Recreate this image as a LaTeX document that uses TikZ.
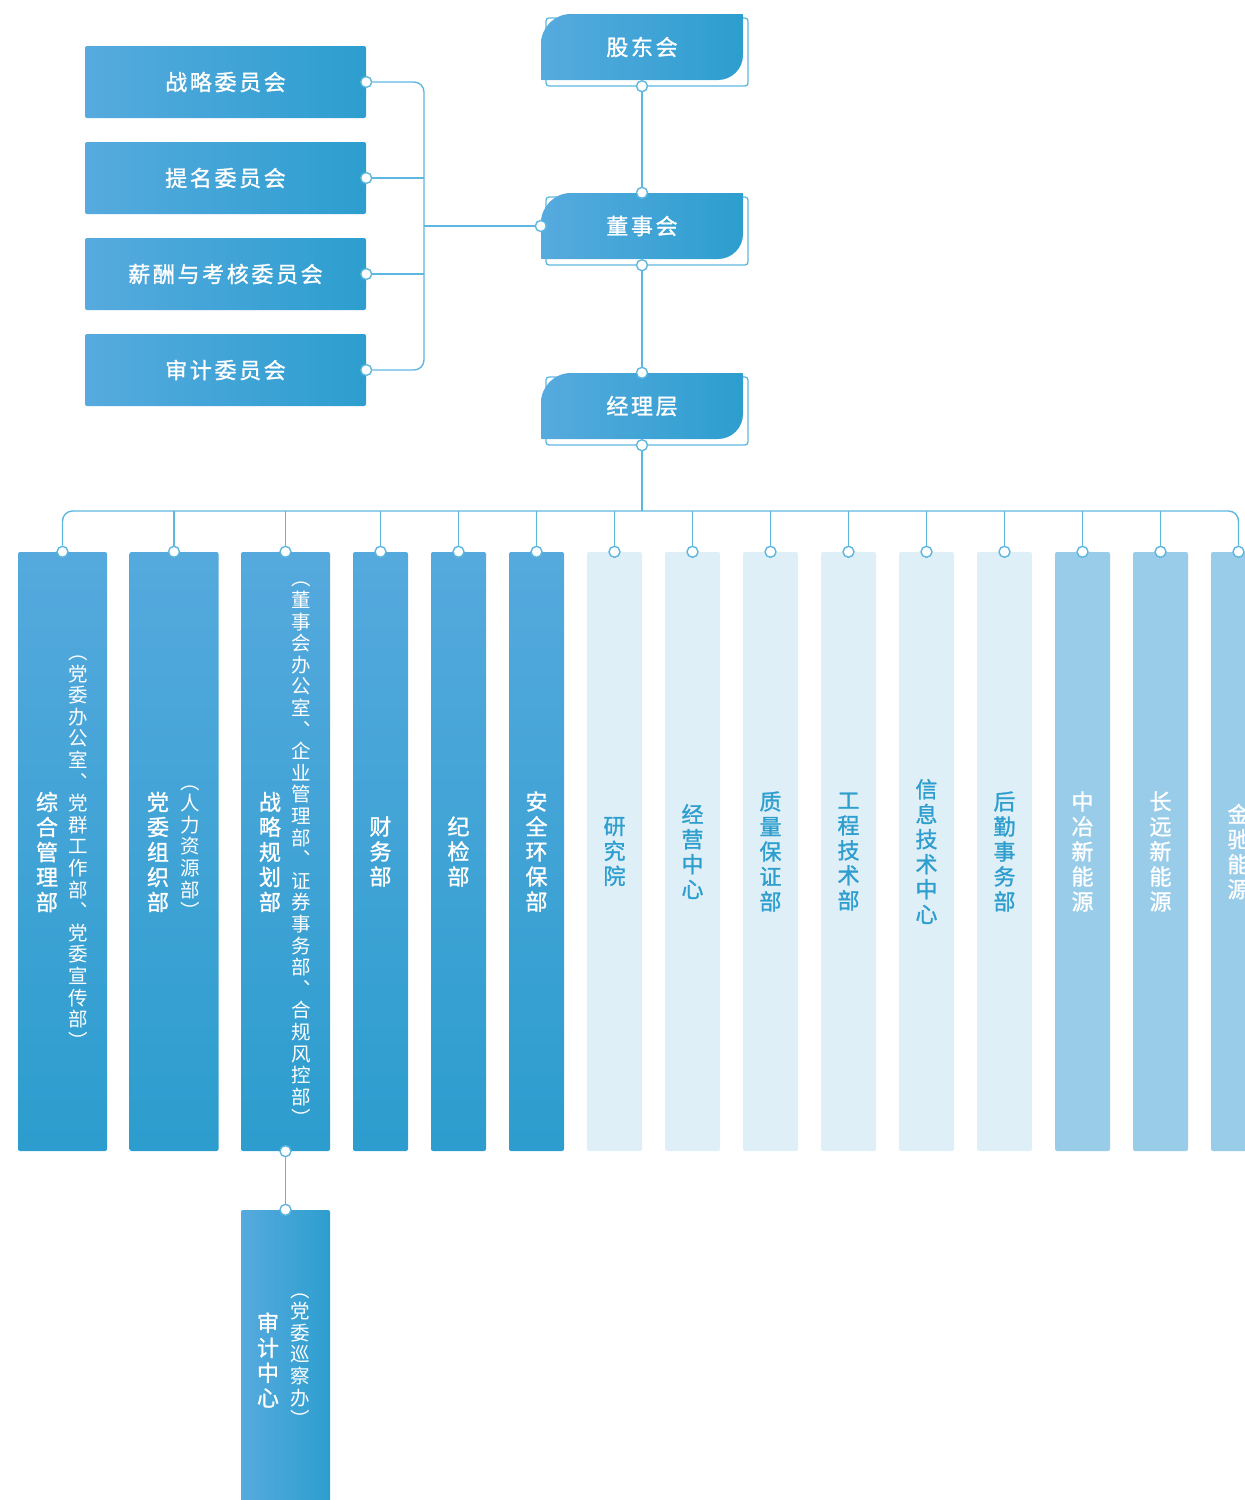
\documentclass[tikz,border=0pt]{standalone}
\usepackage{fontspec}
\usetikzlibrary{calc}
\newfontfamily\cjk{Noto Sans CJK SC}
\newfontfamily\cjkmed[FakeBold=1.2]{Noto Sans CJK SC}
\definecolor{BoxLeft}{RGB}{86,170,222}
\definecolor{BoxRight}{RGB}{45,158,207}
\definecolor{ColTop}{RGB}{85,169,221}
\definecolor{ColBot}{RGB}{44,157,206}
\definecolor{LinkBlue}{RGB}{93,183,222}
\definecolor{PaleBlue}{RGB}{223,239,247}
\definecolor{MidBlue}{RGB}{152,204,233}
\definecolor{TextBlue}{RGB}{46,158,207}

\newcommand\headbg[2]{%
  \begin{scope}[shift={(#1,#2)}]
    \draw[LinkBlue, line width=1.3pt, rounded corners=3pt] (5,4) rectangle (207,72);
    \shade[left color=BoxLeft, right color=BoxRight]
      (0,64) -- (0,30) .. controls (0,13.4) and (13.4,0) .. (30,0) -- (200,0)
      .. controls (202,0) and (202,0) .. (202,2) -- (202,41)
      .. controls (202,54.8) and (190.8,66) .. (177,66) -- (2,66)
      .. controls (0,66) and (0,66) .. (0,64) -- cycle;
  \end{scope}}

\begin{document}
\begin{tikzpicture}[x=1pt, y=-1pt,
  headbox/.style={minimum width=202, minimum height=66, inner sep=0pt, text=white,
    font=\cjkmed\fontsize{22}{22}\selectfont\addfontfeature{LetterSpace=12}},
  committee/.style={rectangle, rounded corners=2pt, minimum width=281, minimum height=72,
    inner sep=0pt, left color=BoxLeft, right color=BoxRight, text=white,
    font=\cjkmed\fontsize{22}{22}\selectfont\addfontfeature{LetterSpace=12}},
  col/.style={rectangle, rounded corners=2pt, minimum height=599, inner sep=0pt, align=center,
    font=\cjkmed\fontsize{22}{25}\selectfont},
  wide/.style={minimum width=89},
  narrow/.style={minimum width=55},
  dark/.style={col, top color=ColTop, bottom color=ColBot, text=white},
  pale/.style={col, fill=PaleBlue, text=TextBlue},
  mid/.style={col, fill=MidBlue, text=white},
  vname/.style={align=center, inner sep=0pt, text=white, font=\cjkmed\fontsize{22}{25}\selectfont},
  vnote/.style={align=center, inner sep=0pt, text=white, font=\cjk\fontsize{19.5}{21.6}\selectfont},
  link/.style={draw=LinkBlue, line width=1.4pt},
  dot/.style={circle, draw=LinkBlue, fill=white, line width=1.4pt, minimum size=11pt, inner sep=0pt}
]
  \clip (0,0) rectangle (1245,1500);

  \headbg{541}{14}
  \node[headbox] (gd) at (642,47) {股东会};
  \headbg{541}{193}
  \node[headbox] (ds) at (642,226) {董事会};
  \headbg{541}{373}
  \node[headbox] (jl) at (642,406) {经理层};

  \node[committee] (c1) at (225.5,82) {战略委员会};
  \node[committee] (c2) at (225.5,178) {提名委员会};
  \node[committee] (c3) at (225.5,274) {薪酬与考核委员会};
  \node[committee] (c4) at (225.5,370) {审计委员会};

  \node[dark, wide] (d1) at (62.5,851.5) {};
  \node[dark, wide] (d2) at (174,851.5) {};
  \node[dark, wide] (d3) at (285.5,851.5) {};
  \node[dark, narrow] (d4) at (380.5,851.5) {财\\务\\部};
  \node[dark, narrow] (d5) at (458.5,851.5) {纪\\检\\部};
  \node[dark, narrow] (d6) at (536.5,851.5) {安\\全\\环\\保\\部};
  \node[pale, narrow] (d7) at (614.5,851.5) {研\\究\\院};
  \node[pale, narrow] (d8) at (692.5,851.5) {经\\营\\中\\心};
  \node[pale, narrow] (d9) at (770.5,851.5) {质\\量\\保\\证\\部};
  \node[pale, narrow] (d10) at (848.5,851.5) {工\\程\\技\\术\\部};
  \node[pale, narrow] (d11) at (926.5,851.5) {信\\息\\技\\术\\中\\心};
  \node[pale, narrow] (d12) at (1004.5,851.5) {后\\勤\\事\\务\\部};
  \node[mid, narrow] (d13) at (1082.5,851.5) {中\\冶\\新\\能\\源};
  \node[mid, narrow] (d14) at (1160.5,851.5) {长\\远\\新\\能\\源};
  \node[mid, narrow] (d15) at (1238.5,851.5) {金\\驰\\能\\源};

  \node[vname] (d1-n) at (47,852) {综\\合\\管\\理\\部};
  \node[vnote] (d1-p) at (78,852) {︵\\党\\委\\办\\公\\室\\︑\\党\\群\\工\\作\\部\\︑\\党\\委\\宣\\传\\部\\︶};
  \node[vname] (d2-n) at (158,852) {党\\委\\组\\织\\部};
  \node[vnote] (d2-p) at (190,852) {︵\\人\\力\\资\\源\\部\\︶};
  \node[vname] (d3-n) at (270,852) {战\\略\\规\\划\\部};
  \node[vnote] (d3-p) at (301,854) {︵\\董\\事\\会\\办\\公\\室\\︑\\企\\业\\管\\理\\部\\︑\\证\\券\\事\\务\\部\\︑\\合\\规\\风\\控\\部\\︶};

  \node[col, wide, minimum height=310, left color=BoxLeft, right color=BoxRight] (sj) at (285.5,1365) {};
  \node[vname] (sj-n) at (268,1360) {审\\计\\中\\心};
  \node[vnote] (sj-p) at (300,1360) {︵\\党\\委\\巡\\察\\办\\︶};

  \node[dot] (gd-b) at ([yshift=-6pt]gd.south) {};
  \node[dot] (ds-t) at (ds.north) {};
  \node[dot] (ds-l) at (ds.west) {};
  \node[dot] (ds-b) at ([yshift=-6pt]ds.south) {};
  \node[dot] (jl-t) at (jl.north) {};
  \node[dot] (jl-b) at ([yshift=-6pt]jl.south) {};
  \foreach \i in {1,...,4}
    \node[dot] (c\i-d) at (c\i.east) {};
  \foreach \i in {1,...,15}
    \node[dot] (d\i-t) at (d\i.north) {};
  \node[dot] (d3-b) at (d3.south) {};
  \node[dot] (sj-t) at (sj.north) {};

  \draw[link] (gd-b) -- (ds-t);
  \draw[link] (ds-b) -- (jl-t);

  \coordinate (cb) at (424,226);
  \draw[link, rounded corners=10pt] (c1-d) -| (cb) |- (c4-d);
  \draw[link] (c2-d) -- (c2-d -| cb);
  \draw[link] (c3-d) -- (c3-d -| cb);
  \draw[link] (cb) -- (ds-l);

  \coordinate (bb) at (642,511);
  \draw[link] (jl-b) -- (bb);
  \draw[link, rounded corners=10pt] (d1-t) |- (bb) -| (d15-t);
  \foreach \i in {2,...,14}
    \draw[link] (d\i-t) -- (d\i-t |- bb);

  \draw[link] (d3-b) -- (sj-t);
\end{tikzpicture}
\end{document}
